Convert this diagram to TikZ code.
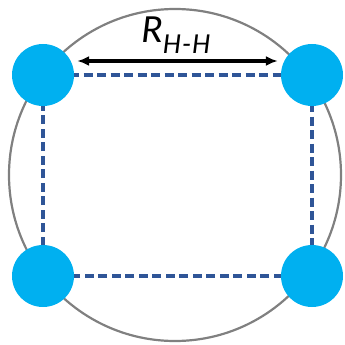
\documentclass[tikz,border=0pt]{standalone}
\usepackage{fontspec}
\setmainfont{Carlito}
\usetikzlibrary{arrows.meta}
\definecolor{atomblue}{HTML}{00B0F0}
\definecolor{bonddash}{HTML}{2F5597}
\definecolor{ringgray}{HTML}{808080}
\tikzset{
  atom/.style={circle,fill=atomblue,inner sep=0pt,minimum size=62pt},
  bond/.style={bonddash,line width=3.2pt,dash pattern=on 9pt off 4.5pt},
}
\begin{document}
\begin{tikzpicture}[x=1pt,y=-1pt,line cap=butt]
\useasboundingbox (0,0) rectangle (345,345);

\coordinate (O) at (175,175);
\draw[ringgray,line width=2.2pt] (O) circle (166);

\coordinate (cTL) at (43,75);
\coordinate (cTR) at (312,75);
\coordinate (cBL) at (43,276);
\coordinate (cBR) at (312,276);

% dashed square joins the centres
\draw[bond] (cTL)--(cTR)--(cBR)--(cBL)--cycle;

\node[atom] (hTL) at (cTL) {};
\node[atom] (hTR) at (cTR) {};
\node[atom] (hBL) at (cBL) {};
\node[atom] (hBR) at (cBR) {};

\coordinate (aL) at ([shift={(3,-14)}]hTL.east);
\coordinate (aR) at ([shift={(-3,-14)}]hTR.west);
\draw[line width=3.2pt,{Latex[length=12pt,width=10pt]}-{Latex[length=12pt,width=10pt]}] (aL)--(aR);

\node[anchor=base west,inner sep=0pt] (rlabel) at (141,42)
  {\itshape\fontsize{40}{44}\selectfont R\raisebox{-11pt}{\fontsize{29}{32}\selectfont\addfontfeatures{LetterSpace=4}H-H}};
\end{tikzpicture}
\end{document}
